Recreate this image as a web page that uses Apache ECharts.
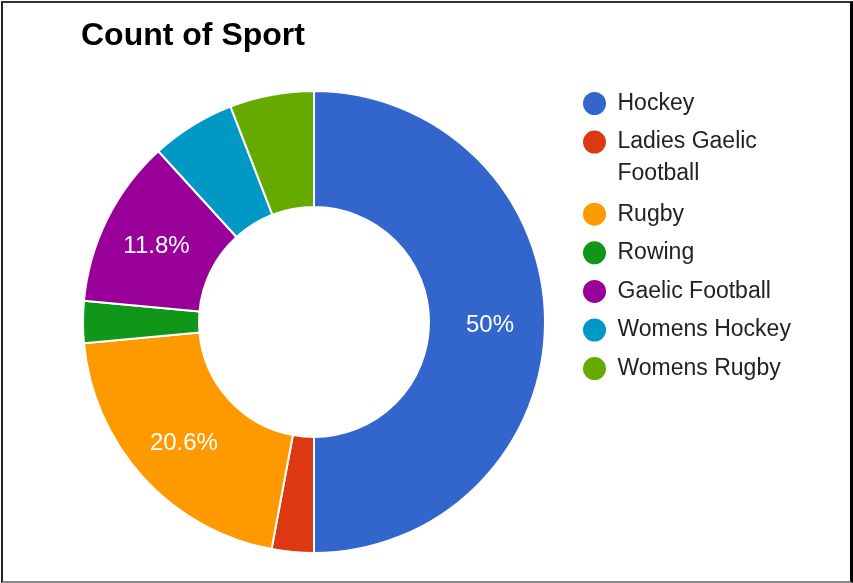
<!DOCTYPE html>
<html>
<head>
  <meta charset="utf-8">
  <script src="https://cdn.jsdelivr.net/npm/echarts@6/dist/echarts.min.js"></script>
  <style>
    body { margin: 0; background: #fff; }
    #container { position: absolute; left: 0; top: 0; width: 853px; height: 583px; }
    #frame {
      position: absolute; left: 1px; top: 1px; width: 847px; height: 578px;
      border-left: 2px solid #222; border-top: 2px solid #333;
      border-right: 3px solid #000; border-bottom: 2px solid #888;
      pointer-events: none;
    }
  </style>
</head>
<body>
  <div id="container"></div>
  <div id="frame"></div>
  <script>
    // 数据
    var titleText = 'Count of Sport';
    var sports = ['Hockey', 'Ladies Gaelic Football', 'Rugby', 'Rowing',
                  'Gaelic Football', 'Womens Hockey', 'Womens Rugby'];
    var counts = [17, 1, 7, 1, 4, 2, 2];
    var colors = ['#3366cc', '#dc3912', '#ff9900', '#109618',
                  '#990099', '#0099c6', '#66aa00'];

    var total = counts.reduce((a, b) => a + b, 0);
    var myChart = echarts.init(document.getElementById('container'));

    var option = {
      animation: false,
      color: colors,
      textStyle: { fontFamily: 'Liberation Sans, Arial, sans-serif' },
      title: {
        text: titleText,
        left: 76,
        top: 15,
        textStyle: { fontSize: 32, fontWeight: 'bold', color: '#000' }
      },
      legend: {
        orient: 'vertical',
        left: 581,
        top: 90,
        padding: 0,
        icon: 'circle',
        itemWidth: 36,
        itemHeight: 25,
        itemGap: 11.6,
        selectedMode: false,
        data: sports,
        textStyle: {
          fontSize: 23,
          color: '#222',
          rich: {
            a: { fontSize: 23, color: '#222', lineHeight: 32 },
            b: { fontSize: 23, color: '#222', lineHeight: 0, height: 31,
                 verticalAlign: 'top', backgroundColor: 'rgba(0,0,0,0)' }
          }
        },
        formatter: function (name) {
          // 长名称换行，图标对齐第一行
          if (name === 'Ladies Gaelic Football') return '{a|Ladies Gaelic}\n{b|Football}';
          return name;
        }
      },
      series: [{
        type: 'pie',
        center: [314, 322],
        radius: [115, 231],
        startAngle: 90,
        clockwise: true,
        avoidLabelOverlap: false,
        itemStyle: { borderColor: '#fff', borderWidth: 2 },
        emphasis: { disabled: true },
        labelLine: { show: false },
        labelLayout: { dy: 3 },
        label: {
          show: true,
          position: 'inside',
          color: '#fff',
          fontSize: 24,
          formatter: function (p) {
            var pct = p.value / total * 100;
            if (pct < 10) return '';
            return parseFloat(pct.toFixed(1)) + '%';
          }
        },
        data: sports.map((s, i) => ({ name: s, value: counts[i] }))
      }]
    };

    myChart.setOption(option);
  </script>
</body>
</html>
